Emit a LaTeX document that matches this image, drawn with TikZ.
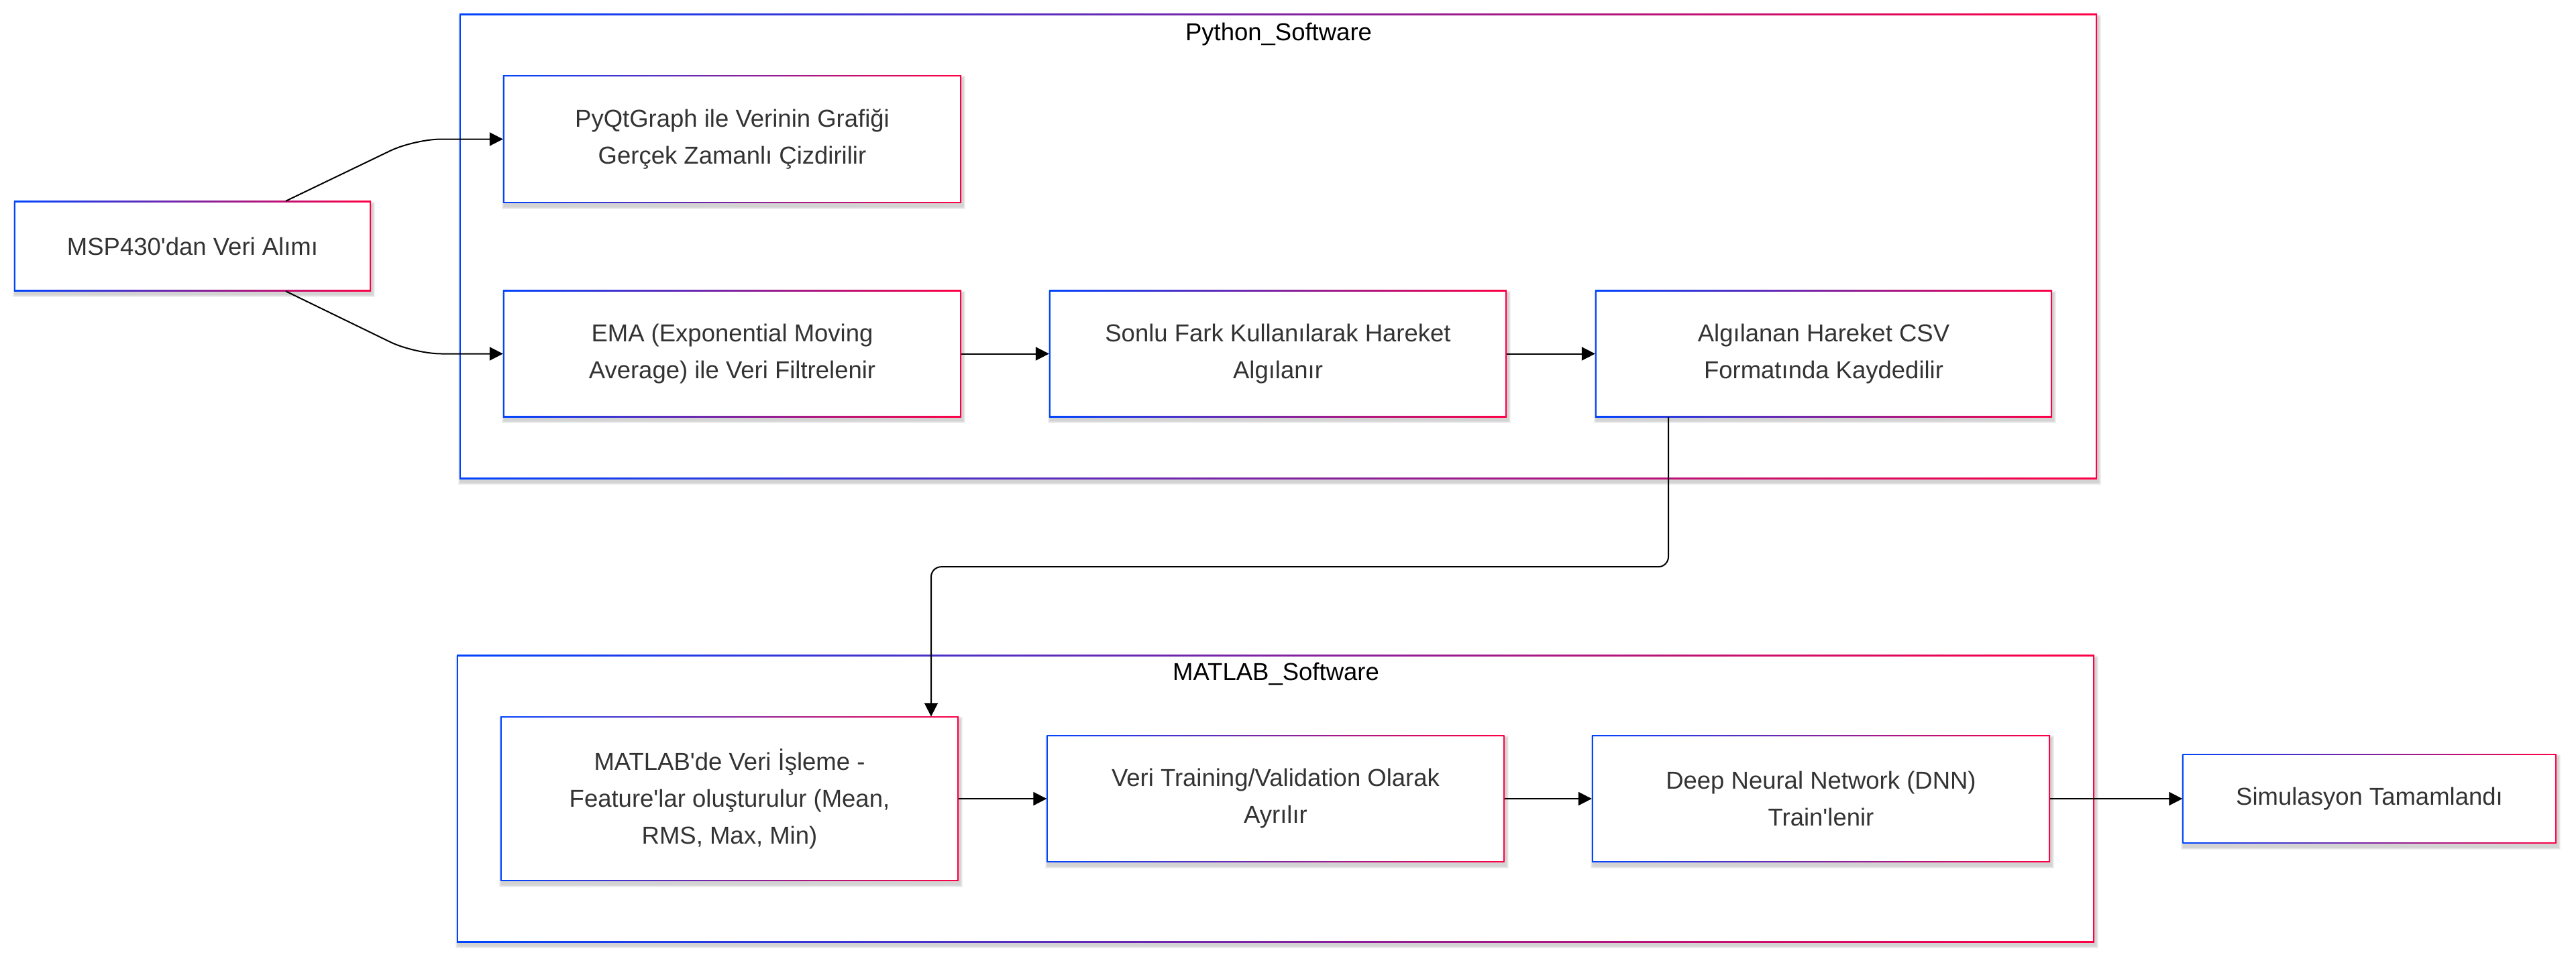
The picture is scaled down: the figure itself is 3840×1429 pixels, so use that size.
\documentclass[tikz,border=0pt]{standalone}
\usepackage{fontspec}
\setmainfont{Liberation Sans}
\usetikzlibrary{arrows.meta}
\definecolor{cblue}{RGB}{0,68,255}
\definecolor{cred}{RGB}{255,0,68}
\definecolor{ctext}{RGB}{51,51,51}
\definecolor{cshadow}{RGB}{150,150,150}
\pgfdeclarelayer{bg}
\pgfsetlayers{bg,main}
\newcommand\apos{\XeTeXglyph\XeTeXcharglyph"27\relax}
\newcommand\gframe[2]{%
  \foreach \k in {1,...,4}{%
    \fill[cshadow, opacity=0.12] ([shift={(2-\k,5-\k)}]#1.north west) rectangle ([shift={(2+\k,5+\k)}]#1.south east);
  }%
  \shade[left color=cblue, right color=cred] (#1.north west) rectangle (#1.south east);
  \fill[white] ([shift={(#2,#2)}]#1.north west) rectangle ([shift={(-#2,-#2)}]#1.south east);
}
\tikzset{
  box/.style={inner sep=0pt, align=center, text=ctext, font=\fontsize{36.5}{55}\selectfont},
  clus/.style={inner sep=0pt},
  clabel/.style={inner sep=0pt, text=black, font=\fontsize{36.5}{44}\selectfont, anchor=base},
  arr/.style={draw=black, line width=2pt, -{Triangle[length=20pt,width=20pt]}},
}
\begin{document}
\begin{tikzpicture}[x=1pt, y=-1pt]
\useasboundingbox (0,0) rectangle (3840,1429);
% clusters
\node[clus, minimum width=2441pt, minimum height=693pt] (py) at (1905.5,367.5) {};
\node[clus, minimum width=2441pt, minimum height=428pt] (mt) at (1901.5,1191) {};
\node[clabel] (pylab) at (1906,60) {Python\_Software};
\node[clabel] (mtlab) at (1902,1014) {MATLAB\_Software};
% nodes
\node[box, minimum width=532pt, minimum height=134pt] (msp) at (287,367) {MSP430\apos dan Veri Alımı};
\node[box, minimum width=683pt, minimum height=190pt] (pyq) at (1091.5,207.5) {PyQtGraph ile Verinin Grafiği\\Gerçek Zamanlı Çizdirilir};
\node[box, minimum width=683pt, minimum height=189pt] (ema) at (1091.5,527.5) {EMA (Exponential Moving\\Average) ile Veri Filtrelenir};
\node[box, minimum width=682pt, minimum height=189pt] (son) at (1905,527.5) {Sonlu Fark Kullanılarak Hareket\\Algılanır};
\node[box, minimum width=681pt, minimum height=189pt] (alg) at (2718.5,527.5) {Algılanan Hareket CSV\\Formatında Kaydedilir};
\node[box, minimum width=683pt, minimum height=245pt] (mat) at (1087.5,1191) {MATLAB\apos de Veri İşleme -\\Feature\apos lar oluşturulur (Mean,\\RMS, Max, Min)};
\node[box, minimum width=682pt, minimum height=189pt] (val) at (1901.5,1191) {Veri Training/Validation Olarak\\Ayrılır};
\node[box, minimum width=683pt, minimum height=189pt] (dnn) at (2714.5,1191) {Deep Neural Network (DNN)\\Train\apos lenir};
\node[box, minimum width=557pt, minimum height=133pt] (sim) at (3532,1191) {Simulasyon Tamamlandı};
% frames
\begin{pgfonlayer}{bg}
\fill[white] (0,0) rectangle (3840,1429);
\gframe{py}{2}
\gframe{mt}{2}
\foreach \n in {msp,pyq,ema,son,alg,mat,val,dnn,sim}{\gframe{\n}{2}}
\end{pgfonlayer}
% connectors
\draw[arr, rounded corners=40pt] ([xshift=139pt]msp.north) -- ([xshift=-132pt]pyq.west) -- (pyq.west);
\draw[arr, rounded corners=40pt] ([xshift=139pt]msp.south) -- ([xshift=-132pt]ema.west) -- (ema.west);
\draw[arr] (ema.east) -- (son.west);
\draw[arr] (son.east) -- (alg.west);
\draw[arr, rounded corners=15pt] ([xshift=-231.5pt]alg.south) -- ++(0,223) -| ([xshift=300.5pt]mat.north);
\draw[arr] (mat.east) -- (val.west);
\draw[arr] (val.east) -- (dnn.west);
\draw[arr] (dnn.east) -- (sim.west);
\end{tikzpicture}
\end{document}
